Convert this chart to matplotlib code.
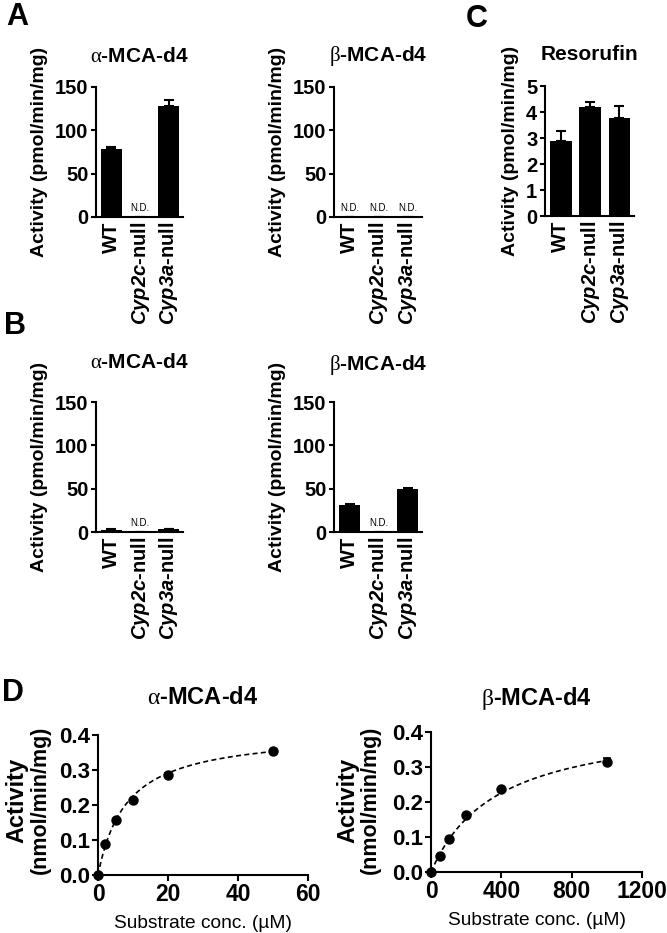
import numpy as np
import matplotlib
matplotlib.use("Agg")
import matplotlib as mpl
import matplotlib.pyplot as plt

# ---------------- data ----------------
groups = ["WT", "Cyp2c-null", "Cyp3a-null"]
group_labels = ["WT", r"$\mathbfit{Cyp2c}$-null", r"$\mathbfit{Cyp3a}$-null"]

A_alpha_vals = [79, 0, 128]
A_alpha_err = [2, 0, 7]
A_alpha_nd = [False, True, False]

A_beta_vals = [0, 0, 0]
A_beta_err = [0, 0, 0]
A_beta_nd = [True, True, True]

B_alpha_vals = [2.5, 0, 3.5]
B_alpha_err = [0.4, 0, 0.4]
B_alpha_nd = [False, True, False]

B_beta_vals = [31.5, 0, 50]
B_beta_err = [1.0, 0, 0.5]
B_beta_nd = [False, True, False]

C_vals = [2.9, 4.2, 3.76]
C_err = [0.38, 0.2, 0.47]
C_nd = [False, False, False]

D_alpha_x = [0, 2, 5, 10, 20, 50]
D_alpha_y = [0, 0.088, 0.158, 0.215, 0.285, 0.355]
D_alpha_err = [0, 0, 0, 0, 0.006, 0]

D_beta_x = [0, 50, 100, 200, 400, 1000]
D_beta_y = [0, 0.045, 0.093, 0.163, 0.237, 0.314]
D_beta_err = [0, 0, 0, 0, 0, 0.012]

# ---------------- style ----------------
mpl.rcParams["font.family"] = ["Liberation Sans", "DejaVu Sans"]
mpl.rcParams["mathtext.fontset"] = "custom"
mpl.rcParams["mathtext.rm"] = "Liberation Serif"
mpl.rcParams["mathtext.it"] = "Liberation Sans:italic"
mpl.rcParams["mathtext.bf"] = "Liberation Sans:bold"
if "mathtext.bfit" in mpl.rcParams:
    mpl.rcParams["mathtext.bfit"] = "Liberation Sans:italic:bold"
else:
    group_labels = [g.replace(r"\mathbfit", r"\mathit") for g in group_labels]

W, H = 667, 933
fig = plt.figure(figsize=(W / 100, H / 100), dpi=100)


def px_axes(left, top, right, bottom):
    return fig.add_axes([left / W, 1 - bottom / H, (right - left) / W, (bottom - top) / H])


LW = 1.5


def style(ax):
    for s in ["top", "right"]:
        ax.spines[s].set_visible(False)
    for s in ["left", "bottom"]:
        ax.spines[s].set_linewidth(LW)
    ax.tick_params(direction="out", width=LW, length=3.5)


def bar_panel(ax, vals, errs, nds, ymax, yticks, title, title_px):
    style(ax)
    x = np.arange(len(vals))
    ax.errorbar(x, vals, yerr=[np.zeros(len(errs)), errs], fmt="none", ecolor="black",
                elinewidth=LW, capsize=3.5, capthick=LW, zorder=1)
    ax.bar(x, vals, width=0.74, color="black", zorder=2)
    for xi, nd in zip(x, nds):
        if nd:
            ax.annotate("N.D.", (xi, 0), xytext=(0, 3), textcoords="offset points",
                        ha="center", va="bottom", fontsize=7)
    ax.set_xlim(-0.54, 2.5)
    ax.set_ylim(0, ymax)
    ax.set_yticks(yticks)
    ax.set_yticklabels([str(t) for t in yticks], fontsize=14.5, fontweight="bold")
    ax.set_xticks(x)
    ax.set_xticklabels(group_labels, rotation=90, fontsize=14.5, fontweight="bold")
    ax.tick_params(axis="x", length=0, pad=3)
    ax.tick_params(axis="y", pad=2)
    ax.set_ylabel("Activity (pmol/min/mg)", fontsize=14, fontweight="bold", labelpad=5)
    hpx = ax.get_position().height * H
    ax.text(0.5, 1 + title_px / hpx, title, transform=ax.transAxes, ha="center", va="center",
            fontsize=15, fontweight="bold")


axA1 = px_axes(96, 87, 183, 217)
bar_panel(axA1, A_alpha_vals, A_alpha_err, A_alpha_nd, 150, [0, 50, 100, 150], r"$\mathrm{\alpha}$-MCA-d4", 30)
axA2 = px_axes(334, 87, 422, 217)
bar_panel(axA2, A_beta_vals, A_beta_err, A_beta_nd, 150, [0, 50, 100, 150], r"$\mathrm{\beta}$-MCA-d4", 31)
axC = px_axes(545, 86, 634, 216)
bar_panel(axC, C_vals, C_err, C_nd, 5, [0, 1, 2, 3, 4, 5], "Resorufin", 31)
axB1 = px_axes(96, 402, 183, 532)
bar_panel(axB1, B_alpha_vals, B_alpha_err, B_alpha_nd, 150, [0, 50, 100, 150], r"$\mathrm{\alpha}$-MCA-d4", 39)
axB2 = px_axes(334, 402, 422, 532)
bar_panel(axB2, B_beta_vals, B_beta_err, B_beta_nd, 150, [0, 50, 100, 150], r"$\mathrm{\beta}$-MCA-d4", 37)


def mm_fit(xs, ys):
    xs = np.asarray(xs, float)
    ys = np.asarray(ys, float)
    m = xs > 0
    # Hanes-Woolf linearisation: S/v = S/Vmax + Km/Vmax
    slope, intercept = np.polyfit(xs[m], xs[m] / ys[m], 1)
    vmax = 1 / slope
    km = intercept * vmax
    return vmax, km


def kin_panel(ax, xs, ys, errs, xmax, xticks, title, title_px):
    style(ax)
    vmax, km = mm_fit(xs, ys)
    s = np.linspace(0, max(xs), 300)
    ax.plot(s, vmax * s / (km + s), ls=(0, (3, 2)), color="black", lw=1.2, zorder=2)
    ax.errorbar(xs, ys, yerr=[np.zeros(len(errs)), errs], fmt="o", color="black",
                ms=6.5, elinewidth=1.2, capsize=3, capthick=1.2, zorder=3, clip_on=False)
    ax.set_xlim(0, xmax)
    ax.set_ylim(0, 0.4)
    ax.set_xticks(xticks)
    ax.set_xticklabels([str(t) for t in xticks], fontsize=16.5, fontweight="bold")
    yt = [0.0, 0.1, 0.2, 0.3, 0.4]
    ax.set_yticks(yt)
    ax.set_yticklabels([f"{t:.1f}" for t in yt], fontsize=16, fontweight="bold")
    ax.tick_params(axis="both", pad=2, length=4)
    ax.set_xlabel("Substrate conc. (µM)", fontsize=13.8, labelpad=6)
    hpx = ax.get_position().height * H
    ax.text(0.5, 1 + title_px / hpx, title, transform=ax.transAxes, ha="center", va="center",
            fontsize=17, fontweight="bold")


axD1 = px_axes(98, 735, 308, 875)
kin_panel(axD1, D_alpha_x, D_alpha_y, D_alpha_err, 60, [0, 20, 40, 60], r"$\mathrm{\alpha}$-MCA-d4", 37)
axD2 = px_axes(431, 732, 642, 872)
kin_panel(axD2, D_beta_x, D_beta_y, D_beta_err, 1200, [0, 400, 800, 1200], r"$\mathrm{\beta}$-MCA-d4", 34)

# two-line y labels for D
for ax, x1, x2 in [(axD1, 17, 40), (axD2, 348, 370)]:
    ycen = 1 - 800 / H
    fig.text(x1 / W, ycen, "Activity", rotation=90, ha="center", va="center",
             fontsize=17, fontweight="bold")
    fig.text(x2 / W, ycen, "(nmol/min/mg)", rotation=90, ha="center", va="center",
             fontsize=15.5, fontweight="bold")

# panel letters
for letter, x, y in [("A", 6, 2), ("B", 4, 311), ("C", 466, 4), ("D", 2, 678)]:
    fig.text(x / W, 1 - y / H, letter, ha="left", va="top", fontsize=22, fontweight="bold")

fig.savefig("out.png", dpi=100)
